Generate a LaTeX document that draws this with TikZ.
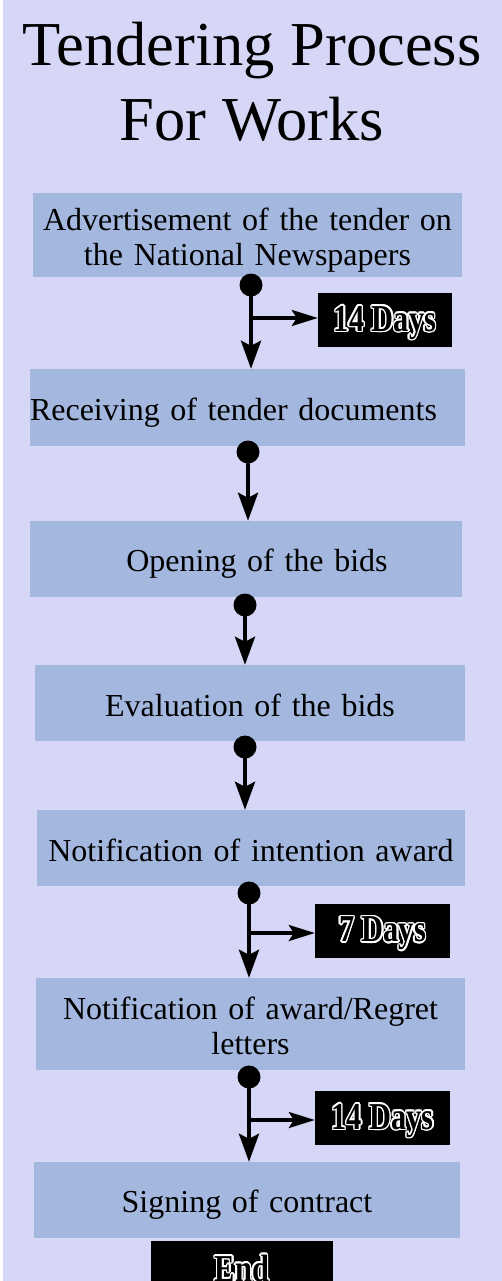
\documentclass[tikz,border=0pt]{standalone}
\usepackage{fontspec}
\setmainfont{Liberation Serif}
\newfontfamily\dayfont[FakeStretch=0.8]{Liberation Serif}
\usepackage[copies]{contour}
\contourlength{1.4pt}
\usetikzlibrary{arrows.meta}
\definecolor{bgc}{HTML}{D6D6F6}
\definecolor{boxc}{HTML}{A4B7DF}
\newcommand\lowstrut[1]{\rule{0pt}{#1}}
\tikzset{
  stepbox/.style={fill=boxc, inner sep=0pt, font=\fontsize{32}{35}\selectfont, align=center, text=black},
  daybox/.style={fill=black, inner sep=0pt, text=black, font=\dayfont\bfseries\fontsize{38}{40}\selectfont},
  conn/.style={line width=4pt, -{Stealth[length=28pt, width=20pt, inset=5pt]}},
  branch/.style={line width=3.2pt, -{Stealth[length=26pt, width=16pt, inset=5pt]}},
  dot/.style={fill=black}
}
\begin{document}
\begin{tikzpicture}[x=1pt,y=-1pt]
\useasboundingbox (0,0) rectangle (502,1281);
\fill[white] (0,0) rectangle (502,1281);
\fill[bgc] (3,0) rectangle (502,1281);

\node[font=\fontsize{62.5}{75}\selectfont, align=center, inner sep=0pt] (title) at (252,82) {Tendering Process\\For Works};

\node[stepbox, minimum width=429pt, minimum height=84pt, text width=429pt] (b1) at (247.5,235) {\lowstrut{32pt}Advertisement of the tender on\\the National Newspapers};
\node[stepbox, minimum width=435pt, minimum height=77pt, text width=435pt, align=left] (b2) at (247.5,407.5) {\lowstrut{32pt}Receiving of tender documents};
\node[stepbox, minimum width=432pt, minimum height=76pt, text width=432pt] (b3) at (246,559) {\lowstrut{32pt}\hspace*{22pt}Opening of the bids};
\node[stepbox, minimum width=430pt, minimum height=76pt, text width=430pt] (b4) at (250,703) {\lowstrut{27pt}Evaluation of the bids};
\node[stepbox, minimum width=428pt, minimum height=76pt, text width=428pt] (b5) at (251,848) {\lowstrut{27pt}Notification of intention award};
\node[stepbox, minimum width=429pt, minimum height=92pt, text width=429pt] (b6) at (250.5,1024) {\lowstrut{27pt}Notification of award/Regret\\letters};
\node[stepbox, minimum width=426pt, minimum height=76pt, text width=426pt] (b7) at (247,1200) {\lowstrut{31pt}Signing of contract};

\node[daybox, minimum width=134pt, minimum height=54pt] (t1) at (385,320) {\lowstrut{32pt}\contour{white}{14 Days}};
\node[daybox, minimum width=135pt, minimum height=54pt] (t2) at (382.5,930.5) {\lowstrut{32pt}\contour{white}{7 Days}};
\node[daybox, minimum width=135pt, minimum height=54pt] (t3) at (382.5,1118) {\lowstrut{32pt}\contour{white}{14 Days}};
\node[daybox, minimum width=182pt, minimum height=50pt] (tend) at (242,1266) {\lowstrut{32pt}\contour{white}{End}};

% connectors
\coordinate (d1) at (251,285);
\coordinate (j1) at (251,318);
\coordinate (d2) at (248,452);
\coordinate (d3) at (245,605);
\coordinate (d4) at (245,747);
\coordinate (d5) at (249,893);
\coordinate (j5) at (249,933);
\coordinate (d6) at (249,1077);
\coordinate (j6) at (249,1120);

\draw[conn] (d1) -- (d1 |- b2.north);
\draw[branch] (j1) -- (j1 -| t1.west);
\draw[conn] (d2) -- (d2 |- b3.north);
\draw[conn] (d3) -- (d3 |- b4.north);
\draw[conn] (d4) -- (d4 |- b5.north);
\draw[conn] (d5) -- (d5 |- b6.north);
\draw[branch] (j5) -- (j5 -| t2.west);
\draw[conn] (d6) -- (d6 |- b7.north);
\draw[branch] (j6) -- (j6 -| t3.west);

\foreach \d in {d1,d2,d3,d4,d5,d6} \fill[dot] (\d) circle (11.5);
\end{tikzpicture}
\end{document}
